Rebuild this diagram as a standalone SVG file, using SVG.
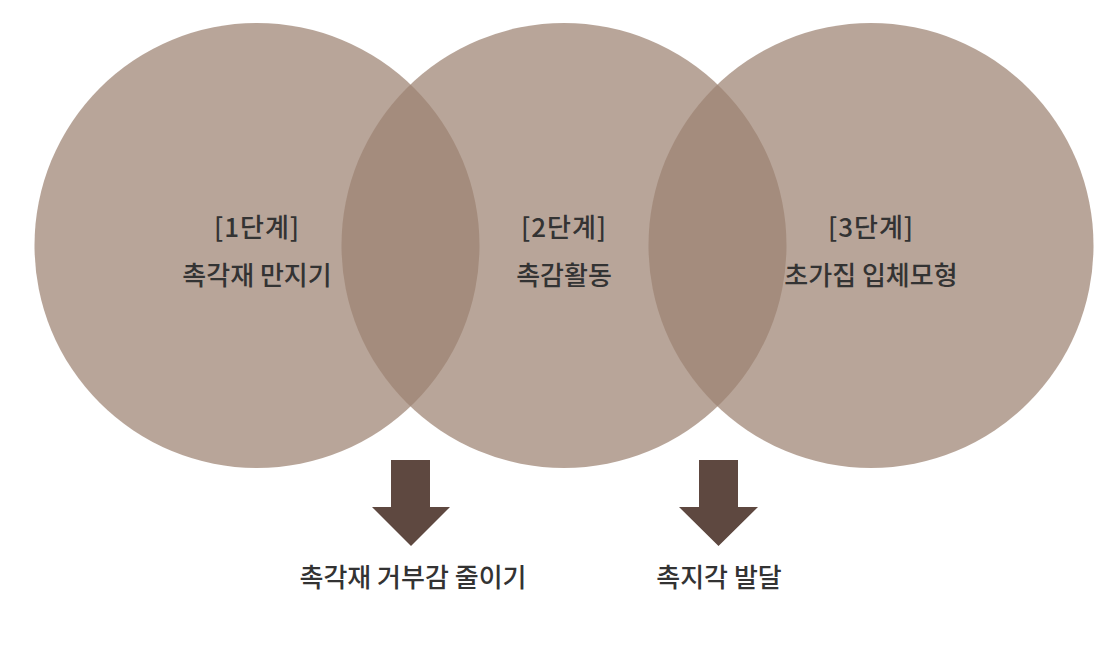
<svg xmlns="http://www.w3.org/2000/svg" width="1110" height="646" viewBox="0 0 1110 646">
<style>
.c{fill:#9c8271;fill-opacity:0.72}
.t{font-family:"Noto Sans CJK KR","Noto Sans",sans-serif;font-size:26px;fill:#333;text-anchor:middle;font-weight:500}
.a{fill:#5e4840}
</style>
<rect width="1110" height="646" fill="#fff"/>
<g id="circle1"><circle class="c" cx="257" cy="245.5" r="222.5"/></g>
<g id="circle2"><circle class="c" cx="564" cy="245.5" r="222.5"/></g>
<g id="circle3"><circle class="c" cx="871" cy="245.5" r="222.5"/></g>
<g id="label1"><text class="t" x="257" y="237" letter-spacing="1">[1단계]</text><text class="t" x="257" y="285">촉각재 만지기</text></g>
<g id="label2"><text class="t" x="564" y="237" letter-spacing="1">[2단계]</text><text class="t" x="564" y="285">촉감활동</text></g>
<g id="label3"><text class="t" x="871" y="237" letter-spacing="1">[3단계]</text><text class="t" x="871" y="285">초가집 입체모형</text></g>
<g id="connectors">
<polygon class="a" points="391,460 430,460 430,507 450,507 411,546 372,507 391,507"/>
<polygon class="a" points="699,460 738,460 738,507 758,507 718.5,546 679,507 699,507"/>
</g>
<g id="result1"><text class="t" x="413" y="587">촉각재 거부감 줄이기</text></g>
<g id="result2"><text class="t" x="719" y="587">촉지각 발달</text></g>
</svg>
